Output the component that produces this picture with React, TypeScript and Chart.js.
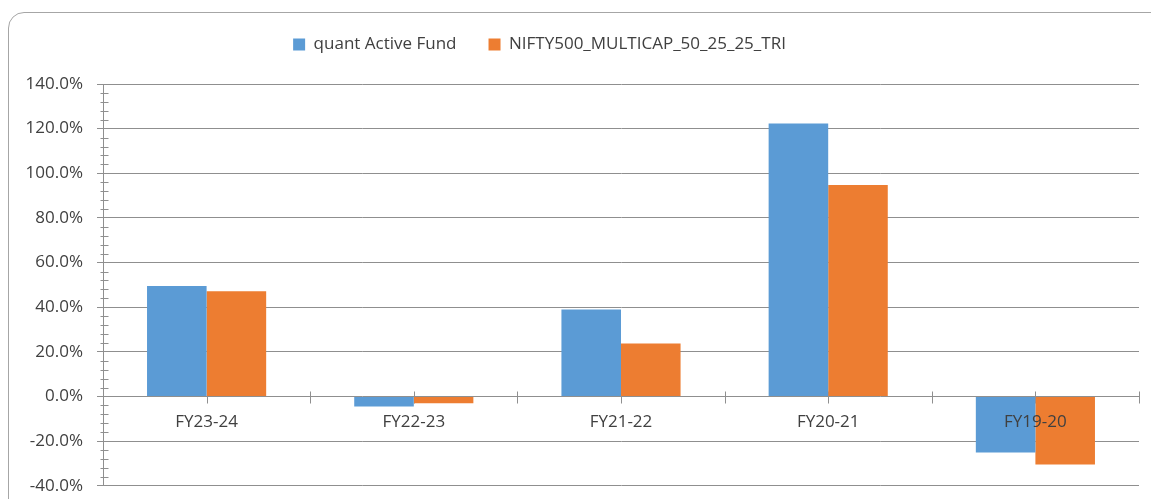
import React, { useEffect, useRef } from "react";
import { Chart, registerables } from "chart.js";

Chart.register(...registerables);

const categories = ["FY23-24", "FY22-23", "FY21-22", "FY20-21", "FY19-20"];
const fundValues = [49.5, -4.5, 39.0, 122.3, -25.1];
const indexValues = [47.2, -3.0, 23.8, 94.8, -30.5];
const seriesNames = ["quant Active Fund", "NIFTY500_MULTICAP_50_25_25_TRI"];
const yMin = -40;
const yMax = 140;
const yStep = 20;
const yMinorStep = 4;

const AXIS = "#8f8f8f";
const TEXT = "#404040";
const FONT = "'Open Sans', sans-serif";

const tickPlugin = {
  id: "excelTicks",
  beforeInit(chart: any) {
    const lg = chart.legend;
    if (lg) {
      const fit = lg.fit;
      lg.fit = function () {
        fit.call(this);
        this.height = 84;
      };
    }
  },
  afterLayout(chart: any) {
    const lg = chart.legend;
    if (lg) {
      lg.left -= 30;
      lg.right -= 30;
      lg.top = 4;
    }
  },
  beforeDatasetsDraw(chart: any) {
    const { ctx } = chart;
    const y = chart.scales.y;
    ctx.save();
    ctx.strokeStyle = AXIS;
    ctx.lineWidth = 1;
    // minor ticks on y axis
    const ax = Math.round(y.right) + 0.5;
    for (let v = yMin; v <= yMax; v += yMinorStep) {
      if (v % yStep === 0) continue;
      const py = Math.round(y.getPixelForValue(v)) + 0.5;
      ctx.beginPath();
      ctx.moveTo(ax - 3, py);
      ctx.lineTo(ax + 5, py);
      ctx.stroke();
    }
    // crossing ticks on category axis
    const y0 = Math.round(y.getPixelForValue(0)) + 0.5;
    const n = categories.length;
    const w = (chart.chartArea.right - chart.chartArea.left) / n;
    for (let i = 0; i <= n * 2; i++) {
      const px = Math.round(chart.chartArea.left + (i * w) / 2) + 0.5;
      ctx.beginPath();
      ctx.moveTo(px, y0 - 6);
      ctx.lineTo(px, y0 + 6);
      ctx.stroke();
    }
    ctx.restore();
  },
};

export default function App() {
  const ref = useRef<HTMLCanvasElement>(null);

  useEffect(() => {
    if (!ref.current) return;
    const chart = new Chart(ref.current, {
      type: "bar",
      data: {
        labels: categories,
        datasets: [
          {
            label: seriesNames[0],
            data: fundValues,
            backgroundColor: "#5B9BD5",
            borderWidth: 0,
          },
          {
            label: seriesNames[1],
            data: indexValues,
            backgroundColor: "#ED7D31",
            borderWidth: 0,
          },
        ],
      },
      options: {
        responsive: false,
        animation: false,
        layout: { padding: { left: 0, right: 12, top: 0, bottom: 3 } },
        datasets: {
          bar: { categoryPercentage: 0.575, barPercentage: 1.0 },
        },
        plugins: {
          tooltip: { enabled: false },
          legend: {
            display: true,
            position: "top",
            labels: {
              boxWidth: 12,
              boxHeight: 12,
              padding: 32,
              color: TEXT,
              font: { family: FONT, size: 17 },
            },
          },
        },
        scales: {
          x: {
            type: "category",
            position: { y: 0 } as any,
            grid: { display: false, drawTicks: false },
            border: { display: false },
            ticks: {
              z: 1,
              color: TEXT,
              padding: 15,
              font: { family: FONT, size: 17 },
              maxRotation: 0,
              autoSkip: false,
            },
          },
          y: {
            min: yMin,
            max: yMax,
            afterFit(scale: any) {
              scale.width = 103;
            },
            grid: {
              color: AXIS,
              tickColor: AXIS,
              tickLength: 6,
              lineWidth: 1,
            },
            border: { display: true, color: AXIS },
            ticks: {
              stepSize: yStep,
              color: TEXT,
              padding: 14,
              font: { family: FONT, size: 17 },
              callback: (v: any) => Number(v).toFixed(1) + "%",
            },
          },
        },
      },
      plugins: [tickPlugin],
    });
    return () => chart.destroy();
  }, []);

  return (
    <div style={{ position: "fixed", inset: 0, overflow: "hidden", background: "#fff" }}>
      <div
        style={{
          position: "absolute",
          left: 8,
          top: 12,
          width: 1160,
          height: 520,
          border: "1px solid #a6a6a6",
          borderRadius: 16,
          boxSizing: "border-box",
        }}
      />
      <canvas
        ref={ref}
        width={1151}
        height={510}
        style={{ position: "absolute", left: 0, top: 0 }}
      />
    </div>
  );
}
